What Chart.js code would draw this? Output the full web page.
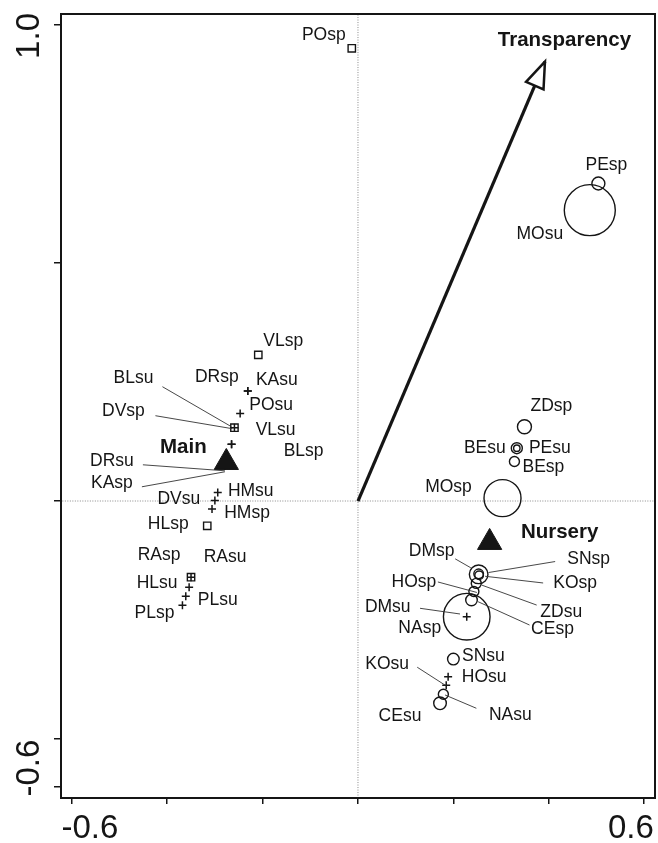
<!DOCTYPE html>
<html>
<head>
<meta charset="utf-8">
<script src="https://cdn.jsdelivr.net/npm/chart.js@4.4.1/dist/chart.umd.min.js"></script>
<style>
  html, body { margin: 0; padding: 0; background: #fff; }
  canvas { display: block; }
</style>
</head>
<body>
<canvas id="chart" width="658" height="843"></canvas>
<script>
// site scores, grouped by the marker used in the figure
const squareNames = ['POsp', 'VLsp', 'DVsp', 'HLsp', 'RAsp'];
const squareX = [-0.013, -0.209, -0.259, -0.316, -0.350];
const squareY = [0.951, 0.307, 0.154, -0.052, -0.160];

const plusNames = ['DRsp', 'KAsu', 'POsu', 'BLsu', 'VLsu', 'BLsp', 'DRsu', 'KAsp', 'HMsu', 'DVsu',
                   'HMsp', 'RAsu', 'HLsu', 'PLsu', 'PLsp', 'DMsu', 'HOsu', 'KOsu'];
const plusX = [-0.231, -0.231, -0.247, -0.259, -0.265, -0.265, -0.279, -0.279, -0.294, -0.300,
               -0.306, -0.350, -0.354, -0.361, -0.368, 0.228, 0.189, 0.185];
const plusY = [0.231, 0.231, 0.184, 0.154, 0.119, 0.119, 0.074, 0.074, 0.018, 0.001,
               -0.017, -0.160, -0.181, -0.200, -0.219, -0.243, -0.369, -0.387];

const circleNames = ['PEsp', 'MOsu', 'ZDsp', 'BEsu', 'PEsu', 'BEsp', 'MOsp', 'DMsp', 'SNsp', 'KOsp',
                     'ZDsu', 'HOsp', 'CEsp', 'NAsp', 'SNsu', 'NAsu', 'CEsu'];
const circleX = [0.504, 0.486, 0.349, 0.333, 0.333, 0.328, 0.303, 0.253, 0.253, 0.254,
                 0.248, 0.243, 0.238, 0.228, 0.200, 0.179, 0.172];
const circleY = [0.667, 0.611, 0.156, 0.111, 0.111, 0.083, 0.006, -0.154, -0.153, -0.156,
                 -0.173, -0.190, -0.208, -0.243, -0.332, -0.406, -0.425];
const circleSize = [6.5, 25.5, 7, 5.5, 3.2, 5, 18.5, 9.3, 4.8, 4.3,
                    5, 5, 5.8, 23.3, 5.8, 5, 6.3];

// group centroids
const centroidNames = ['Main', 'Nursery'];
const centroidX = [-0.276, 0.276];
const centroidY = [0.081, -0.087];

// environmental vector
const envName = 'Transparency';
const envX = 0.392;
const envY = 0.923;

// axes
const xTickValues = [-0.6, -0.4, -0.2, 0, 0.2, 0.4, 0.6];
const yTickValues = [-0.6, -0.5, 0, 0.5, 1.0];
const xTickLabels = ['-0.6', '0.6'];
const xTickLabelAt = [-0.562, 0.572];
const yTickLabels = ['-0.6', '1.0'];
const yTickLabelAt = [-0.561, 0.977];

// label placement (pixel offsets from the marker), and leader lines [x1,y1,x2,y2]
const labelOffsets = {
  POsp: [-28, -13], VLsp: [25, -14], DRsp: [-31, -14], KAsu: [29, -11], POsu: [31, -8],
  BLsu: [-101, -50], DVsp: [-111, -17], VLsu: [44, -14], BLsp: [72, 7], DRsu: [-113, -5],
  KAsp: [-113, 17], HMsu: [33, -1], DVsu: [-36, -1], HMsp: [35, 4], HLsp: [-39, -2],
  RAsp: [-32, -22], RAsu: [34, -20], HLsu: [-32, -4], PLsu: [32, 4], PLsp: [-28, 8],
  PEsp: [8, -18], MOsu: [-50, 24], ZDsp: [27, -21], BEsu: [-32, 0], PEsu: [33, 0],
  BEsp: [29, 6], MOsp: [-54, -11], DMsp: [-47, -23], SNsp: [110, -15], KOsp: [96, 8],
  ZDsu: [85, 29], HOsp: [-60, -9], CEsp: [81, 29], DMsu: [-79, -10], NAsp: [-47, 11],
  SNsu: [30, -3], HOsu: [36, 1], KOsu: [-59, -21], NAsu: [67, 21], CEsu: [-40, 13],
  Main: [-43, -15], Nursery: [70, -10]
};
const leaders = {
  BLsu: [-72, -41, -3, -1], DVsp: [-79, -12, -2, 1], DRsu: [-82, -1, 0, 5], KAsp: [-83, 21, 0, 6],
  DMsp: [-23.5, -15.5, -7.8, -6.5], SNsp: [76.5, -12.3, 9.8, -1.3], KOsp: [64, 7.7, 6, 1],
  ZDsu: [60.4, 21.7, 5.4, 1.7], HOsp: [-36, -9.5, 3, 1], CEsp: [58, 25, 6.6, 1.7],
  DMsu: [-46.7, -8.4, -6.7, -2.7], KOsu: [-29, -18, -1, 0], NAsu: [33, 14, 1.7, 0.7]
};

const FONT = '"Liberation Sans", Arial, sans-serif';
const INK = '#151515';

function toPoints(xs, ys) {
  return xs.map((v, i) => ({ x: v, y: ys[i] }));
}

// name -> data value
const siteValue = {};
squareNames.forEach((n, i) => siteValue[n] = { x: squareX[i], y: squareY[i] });
plusNames.forEach((n, i) => siteValue[n] = { x: plusX[i], y: plusY[i] });
circleNames.forEach((n, i) => siteValue[n] = { x: circleX[i], y: circleY[i] });
centroidNames.forEach((n, i) => siteValue[n] = { x: centroidX[i], y: centroidY[i] });

const overlay = {
  id: 'overlay',
  afterDatasetsDraw(chart) {
    const { ctx, chartArea: a, scales: { x, y } } = chart;
    ctx.save();

    // leader lines
    ctx.strokeStyle = '#333';
    ctx.lineWidth = 0.9;
    Object.keys(leaders).forEach(n => {
      const v = siteValue[n];
      const px = x.getPixelForValue(v.x), py = y.getPixelForValue(v.y);
      const l = leaders[n];
      ctx.beginPath();
      ctx.moveTo(px + l[0], py + l[1]);
      ctx.lineTo(px + l[2], py + l[3]);
      ctx.stroke();
    });

    // site labels
    ctx.fillStyle = INK;
    ctx.textAlign = 'center';
    ctx.textBaseline = 'middle';
    Object.keys(siteValue).forEach(n => {
      const v = siteValue[n];
      const off = labelOffsets[n];
      if (!off) return;
      const bold = centroidNames.includes(n);
      ctx.font = (bold ? 'bold 20.5px ' : '17.5px ') + FONT;
      ctx.fillText(n, x.getPixelForValue(v.x) + off[0], y.getPixelForValue(v.y) + off[1]);
    });

    // arrow head for the environmental vector
    const ox = x.getPixelForValue(0), oy = y.getPixelForValue(0);
    const tx = x.getPixelForValue(envX), ty = y.getPixelForValue(envY);
    const len = Math.hypot(tx - ox, ty - oy);
    const ux = (tx - ox) / len, uy = (ty - oy) / len;
    const bx = tx - 26 * ux, by = ty - 26 * uy;
    ctx.beginPath();
    ctx.moveTo(tx, ty);
    ctx.lineTo(bx - 9.5 * uy, by + 9.5 * ux);
    ctx.lineTo(bx + 9.5 * uy, by - 9.5 * ux);
    ctx.closePath();
    ctx.fillStyle = '#fff';
    ctx.fill();
    ctx.strokeStyle = INK;
    ctx.lineWidth = 2.5;
    ctx.lineJoin = 'miter';
    ctx.stroke();
    ctx.fillStyle = INK;
    ctx.font = 'bold 20.5px ' + FONT;
    ctx.fillText(envName, tx + 19.5, ty - 21.5);

    // plot box
    ctx.strokeStyle = INK;
    ctx.lineWidth = 2;
    ctx.strokeRect(a.left + 1, a.top, a.right - a.left - 1, a.bottom - a.top);

    // tick labels
    ctx.font = '33px ' + FONT;
    ctx.fillStyle = INK;
    xTickLabels.forEach((t, i) => {
      ctx.fillText(t, x.getPixelForValue(xTickLabelAt[i]), 829);
    });
    yTickLabels.forEach((t, i) => {
      ctx.save();
      ctx.translate(30, y.getPixelForValue(yTickLabelAt[i]));
      ctx.rotate(-Math.PI / 2);
      ctx.fillText(t, 0, 0);
      ctx.restore();
    });

    ctx.restore();
  }
};

new Chart(document.getElementById('chart'), {
  type: 'scatter',
  data: {
    datasets: [
      {
        label: 'centroids',
        data: toPoints(centroidX, centroidY),
        pointStyle: 'triangle',
        pointRadius: 14,
        pointBackgroundColor: INK,
        pointBorderColor: INK,
        pointBorderWidth: 1
      },
      {
        label: 'circles',
        data: toPoints(circleX, circleY),
        pointStyle: 'circle',
        pointRadius: circleSize,
        pointBackgroundColor: 'rgba(0,0,0,0)',
        pointBorderColor: INK,
        pointBorderWidth: 1.4
      },
      {
        label: 'squares',
        data: toPoints(squareX, squareY),
        pointStyle: 'rect',
        pointRadius: 5.2,
        pointBackgroundColor: 'rgba(0,0,0,0)',
        pointBorderColor: INK,
        pointBorderWidth: 1.4
      },
      {
        label: 'plus',
        data: toPoints(plusX, plusY),
        pointStyle: 'cross',
        pointRadius: 4,
        pointBorderColor: INK,
        pointBorderWidth: 1.5
      },
      {
        type: 'line',
        label: envName,
        data: [{ x: 0, y: 0 }, { x: envX, y: envY }],
        borderColor: INK,
        borderWidth: 3.2,
        pointRadius: 0
      },
      {
        type: 'line',
        label: 'x0',
        data: [{ x: 0, y: -0.624 }, { x: 0, y: 1.023 }],
        borderColor: '#8a8a8a',
        borderWidth: 1,
        borderDash: [1, 1.5],
        pointRadius: 0
      },
      {
        type: 'line',
        label: 'y0',
        data: [{ x: -0.625, y: 0 }, { x: 0.623, y: 0 }],
        borderColor: '#8a8a8a',
        borderWidth: 1,
        borderDash: [1, 1.5],
        pointRadius: 0
      }
    ]
  },
  options: {
    responsive: false,
    devicePixelRatio: 1,
    animation: false,
    events: [],
    layout: { autoPadding: false, padding: { top: 14, right: 3, left: 0, bottom: 0 } },
    plugins: { legend: { display: false }, tooltip: { enabled: false } },
    scales: {
      x: {
        type: 'linear',
        min: -0.6247,
        max: 0.6227,
        afterBuildTicks: s => { s.ticks = xTickValues.map(v => ({ value: v })); },
        afterFit: s => { s.height = 45; },
        ticks: { display: false },
        border: { display: false },
        grid: { drawOnChartArea: false, drawTicks: true, tickLength: 6, color: INK, lineWidth: 1.5 }
      },
      y: {
        type: 'linear',
        min: -0.6239,
        max: 1.0231,
        afterBuildTicks: s => { s.ticks = yTickValues.map(v => ({ value: v })); },
        afterFit: s => { s.width = 60; },
        ticks: { display: false },
        border: { display: false },
        grid: { drawOnChartArea: false, drawTicks: true, tickLength: 6, color: INK, lineWidth: 1.5 }
      }
    }
  },
  plugins: [overlay]
});
</script>
</body>
</html>
